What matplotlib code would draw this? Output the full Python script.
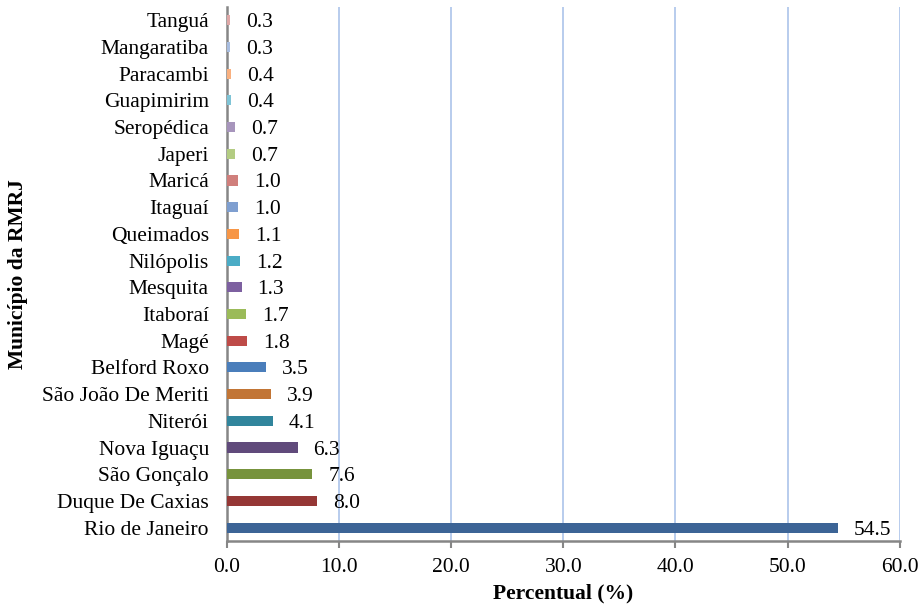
import matplotlib
matplotlib.use("Agg")
import matplotlib.pyplot as plt

# Share of each municipality (%), ordered bottom to top
municipios = ["Rio de Janeiro", "Duque De Caxias", "São Gonçalo", "Nova Iguaçu",
              "Niterói", "São João De Meriti", "Belford Roxo", "Magé", "Itaboraí",
              "Mesquita", "Nilópolis", "Queimados", "Itaguaí", "Maricá", "Japeri",
              "Seropédica", "Guapimirim", "Paracambi", "Mangaratiba", "Tanguá"]
percentual = [54.5, 8.0, 7.6, 6.3, 4.1, 3.9, 3.5, 1.8, 1.7, 1.3, 1.2, 1.1,
              1.0, 1.0, 0.7, 0.7, 0.4, 0.4, 0.3, 0.3]
cores = ["#3C6496", "#953735", "#77933C", "#604A7B", "#31859C", "#C27535",
         "#4A7EBB", "#BE4B48", "#9BBB59", "#7D60A0", "#4BACC6", "#F79646",
         "#7F9FD0", "#D07F7C", "#B3CC82", "#A795BC", "#7FC4D6", "#F9B07F",
         "#A8BDE0", "#DFA8A7"]
xticks = [0, 10, 20, 30, 40, 50, 60]

plt.rcParams["font.family"] = ["Liberation Serif", "DejaVu Serif"]

fig = plt.figure(figsize=(9.19, 6.09), dpi=100)
ax = fig.add_axes([0.247, 0.1117, 0.732, 0.877])

ypos = list(range(len(municipios)))
ax.barh(ypos, percentual, height=0.38, color=cores, zorder=3)

for y, v in zip(ypos, percentual):
    ax.annotate(f"{v:.1f}", xy=(v, y), xytext=(11.5, 0), textcoords="offset points",
                ha="left", va="center_baseline", fontsize=15.5, color="black")

ax.set_xlim(0, 60)
ax.set_ylim(-0.5, len(municipios) - 0.5)
ax.set_xticks(xticks)
ax.set_xticklabels([f"{t:.1f}" for t in xticks], fontsize=15.5)
ax.set_yticks(ypos)
ax.set_yticklabels(municipios, fontsize=15.5)

ax.grid(axis="x", color="#ABC4EA", linewidth=1.2, zorder=0)
ax.set_axisbelow(True)

for s in ("top", "right"):
    ax.spines[s].set_visible(False)
for s in ("left", "bottom"):
    ax.spines[s].set_color("#868686")
    ax.spines[s].set_linewidth(1.8)

ax.tick_params(axis="y", length=0, pad=13)
ax.tick_params(axis="x", length=5, width=1.5, color="#868686", direction="out", pad=7)

ax.set_xlabel("Percentual (%)", fontsize=15.5, fontweight="bold", labelpad=5)
ax.set_ylabel("Município da RMRJ", fontsize=15.5, fontweight="bold", labelpad=10)

fig.savefig("out.png", dpi=100)
